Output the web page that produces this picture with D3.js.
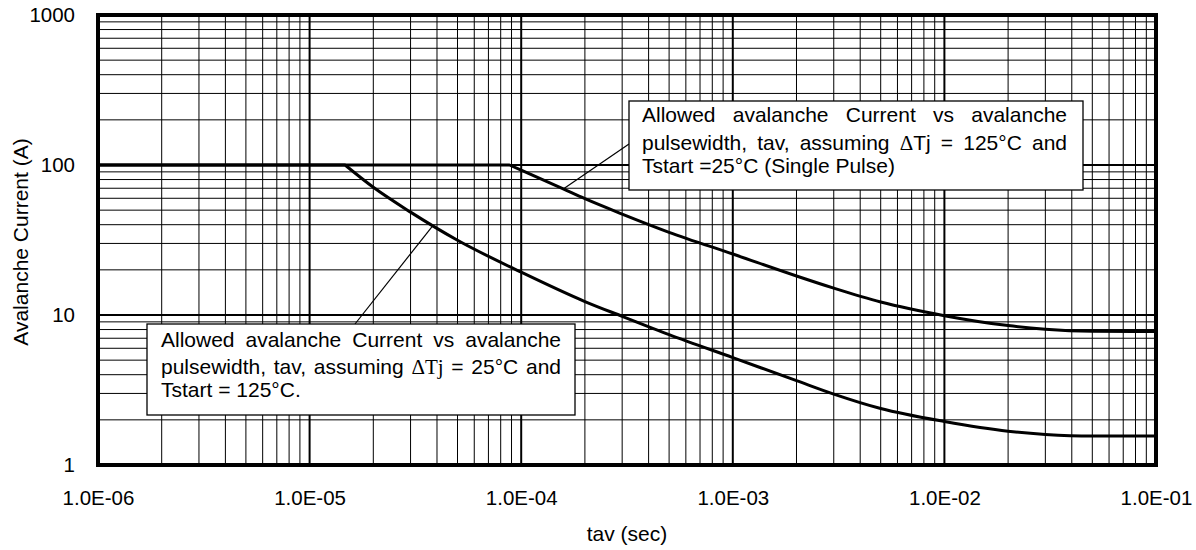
<!DOCTYPE html>
<html>
<head>
<meta charset="utf-8">
<script src="https://cdn.jsdelivr.net/npm/d3@7"></script>
<style>
body { margin: 0; background: #fff; }
text { font-family: "Liberation Sans", Arial, Helvetica, sans-serif; fill: #000; }
</style>
</head>
<body>
<div id="chart-area"></div>
<script>
// axis ticks
let tavTicks = [1e-6, 1e-5, 1e-4, 1e-3, 1e-2, 1e-1];
let tavLabels = ["1.0E-06", "1.0E-05", "1.0E-04", "1.0E-03", "1.0E-02", "1.0E-01"];
let currentTicks = [1, 10, 100, 1000];
let currentLabels = ["1", "10", "100", "1000"];

// dTj = 125C, Tstart = 25C (single pulse); second point is the knee
let tavHot = [1e-6, 8.8e-5, 1e-4, 1.58e-4, 2e-4, 3e-4, 5e-4, 1e-3, 2e-3, 3e-3, 5e-3, 1e-2, 2e-2, 3e-2, 5e-2, 1e-1];
let currentHot = [100, 100, 92.3, 69.2, 59.6, 47.1, 35.6, 25.5, 18.2, 15.1, 12.2, 9.9, 8.5, 8.05, 7.8, 7.75];

// dTj = 25C, Tstart = 125C; second point is the knee
let tavCold = [1e-6, 1.47e-5, 2e-5, 3e-5, 5e-5, 1e-4, 2e-4, 3e-4, 5e-4, 1e-3, 2e-3, 3e-3, 5e-3, 1e-2, 2e-2, 3e-2, 5e-2, 1e-1];
let currentCold = [100, 100, 71, 48.5, 31.5, 19.3, 12.3, 9.8, 7.4, 5.2, 3.65, 2.97, 2.38, 1.95, 1.68, 1.6, 1.56, 1.56];

let hotNote = ["Allowed avalanche Current vs avalanche", "pulsewidth, tav, assuming \u0394Tj = 125\u00b0C and", "Tstart =25\u00b0C (Single Pulse)"];
let coldNote = ["Allowed avalanche Current vs avalanche", "pulsewidth, tav, assuming \u0394Tj = 25\u00b0C and", "Tstart = 125\u00b0C."];

let margin = {top: 15, right: 40, bottom: 85, left: 98};
let width = 1196 - margin.left - margin.right,
	height = 550 - margin.top - margin.bottom;

let svg = d3.select("#chart-area")
	.append("svg")
	.attr("width", 1196)
	.attr("height", 550);

let g = svg.append("g")
	.attr("transform", "translate(" + margin.left + "," + margin.top + ")");

let x = d3.scaleLog().domain([1e-6, 1e-1]).range([0, width]);
let y = d3.scaleLog().domain([1, 1000]).range([height, 0]);

let isMajor = d => Math.abs(Math.log10(d) - Math.round(Math.log10(d))) < 1e-6;

// grid
g.append("g").selectAll("line")
	.data(x.ticks())
	.join("line")
	.attr("x1", d => x(d)).attr("x2", d => x(d))
	.attr("y1", 0).attr("y2", height)
	.attr("stroke", "#000")
	.attr("stroke-width", d => isMajor(d) ? 2 : 1);

g.append("g").selectAll("line")
	.data(y.ticks())
	.join("line")
	.attr("y1", d => y(d)).attr("y2", d => y(d))
	.attr("x1", 0).attr("x2", width)
	.attr("stroke", "#000")
	.attr("stroke-width", d => isMajor(d) ? 2 : 1);

// curves: flat limit up to the knee, then smooth decay
let flat = d3.line().x(d => x(d[0])).y(d => y(d[1]));
let decay = d3.line().x(d => x(d[0])).y(d => y(d[1])).curve(d3.curveMonotoneX);

[d3.zip(tavHot, currentHot), d3.zip(tavCold, currentCold)].forEach(pts => {
	g.append("path")
		.attr("d", flat(pts.slice(0, 2)) + decay(pts.slice(1)))
		.attr("fill", "none")
		.attr("stroke", "#000")
		.attr("stroke-width", 3)
		.attr("stroke-linejoin", "round")
		.attr("stroke-linecap", "round");
});

// frame
g.append("rect")
	.attr("width", width).attr("height", height)
	.attr("fill", "none")
	.attr("stroke", "#000")
	.attr("stroke-width", 4);

// axes (labels only)
let xAxis = d3.axisBottom(x)
	.tickValues(tavTicks)
	.tickFormat((d, i) => tavLabels[i])
	.tickSize(0)
	.tickPadding(25);

let yAxis = d3.axisLeft(y)
	.tickValues(currentTicks)
	.tickFormat((d, i) => currentLabels[i])
	.tickSize(0)
	.tickPadding(23);

g.append("g")
	.attr("transform", "translate(0," + height + ")")
	.call(xAxis)
	.call(a => a.select(".domain").remove());

g.append("g")
	.call(yAxis)
	.call(a => a.select(".domain").remove());

g.selectAll(".tick text")
	.attr("font-size", 20.5)
	.attr("fill", "#000")
	.style("font-family", "'Liberation Sans', Arial, sans-serif");

svg.append("text")
	.attr("x", margin.left + width / 2)
	.attr("y", 541)
	.attr("text-anchor", "middle")
	.attr("font-size", 21)
	.text("tav (sec)");

svg.append("text")
	.attr("transform", "translate(28," + (margin.top + height / 2 + 2) + ") rotate(-90)")
	.attr("text-anchor", "middle")
	.attr("font-size", 21)
	.text("Avalanche Current (A)");

// annotation boxes
let notes = [
	{lines: hotNote, box: [629, 101, 454, 89], base: [21, 49, 72], pad: 13, justify: 425, serifTj: false,
		anchor: [1.58e-4, 69.2], foot: [629, 144]},
	{lines: coldNote, box: [147, 324, 428, 91], base: [23, 50, 73], pad: 14, justify: 400, serifTj: true,
		anchor: [3.8e-5, 39], foot: [355, 324]}
];

function writeLine(parent, str, x0, y0, justify, serifTj) {
	let words = str.split(" ");
	let nodes = words.map(w => {
		let t = parent.append("text").attr("y", y0).attr("font-size", 21);
		if (w.includes("\u0394")) {
			t.append("tspan")
				.style("font-family", "'Liberation Serif', 'Times New Roman', serif")
				.text(serifTj ? w : "\u0394");
			if (!serifTj) t.append("tspan").text(w.slice(1));
		} else {
			t.text(w);
		}
		return t;
	});
	let widths = nodes.map(t => t.node().getComputedTextLength());
	let gap = justify ? (justify - d3.sum(widths)) / (words.length - 1) : 21 * 0.278;
	let cx = x0;
	nodes.forEach((t, i) => {
		t.attr("x", cx);
		cx += widths[i] + gap;
	});
}

notes.forEach(n => {
	svg.append("line")
		.attr("x1", margin.left + x(n.anchor[0]))
		.attr("y1", margin.top + y(n.anchor[1]))
		.attr("x2", n.foot[0])
		.attr("y2", n.foot[1])
		.attr("stroke", "#000")
		.attr("stroke-width", 1.2);

	let b = svg.append("g");
	b.append("rect")
		.attr("x", n.box[0]).attr("y", n.box[1])
		.attr("width", n.box[2]).attr("height", n.box[3])
		.attr("fill", "#fff")
		.attr("stroke", "#000")
		.attr("stroke-width", 1.3);
	n.lines.forEach((s, i) => {
		let last = i === n.lines.length - 1;
		writeLine(b, s, n.box[0] + n.pad, n.box[1] + n.base[i], last ? 0 : n.justify, n.serifTj);
	});
});
</script>
</body>
</html>
